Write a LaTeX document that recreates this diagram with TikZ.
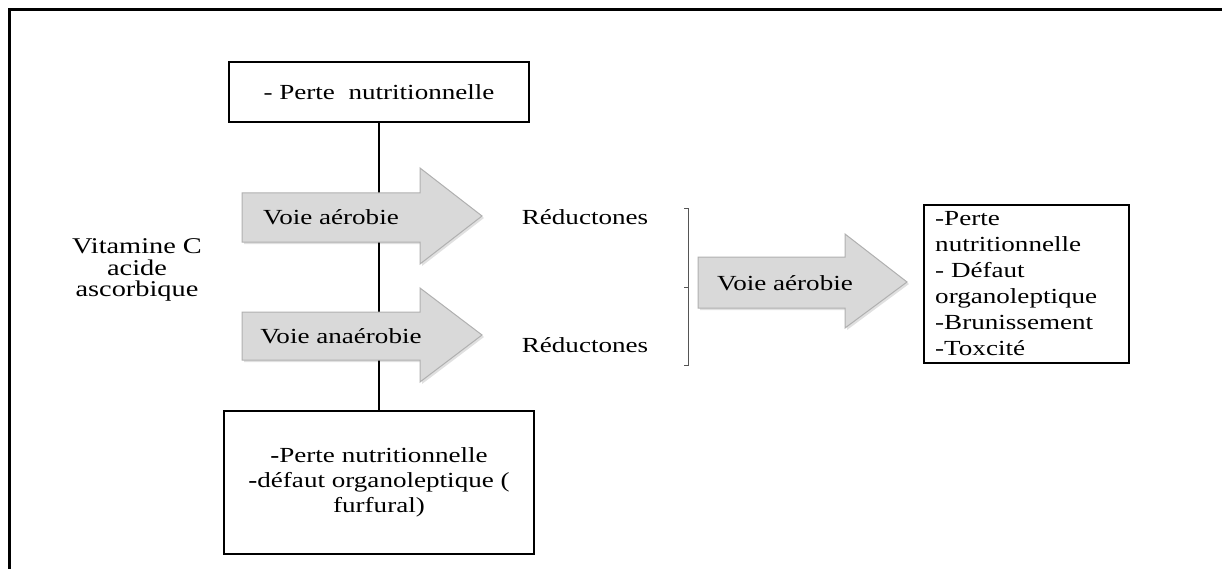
\documentclass[tikz,border=0pt]{standalone}
\usepackage{fontspec}
\setmainfont{Liberation Serif}[FakeStretch=1.26]
\definecolor{arrowfill}{HTML}{D9D9D9}
\definecolor{arrowdraw}{HTML}{B0B0B0}
\definecolor{brackcol}{HTML}{555555}
\begin{document}
\begin{tikzpicture}[x=1pt,y=-1pt,
  txt/.style={inner sep=0pt, font=\fontsize{21.5}{24}\selectfont},
  boxnode/.style={draw=black, line width=2.4pt, inner sep=0pt, font=\fontsize{21.5}{24}\selectfont},
  bigarrow/.style={fill=arrowfill, draw=arrowdraw, line width=1pt, line join=miter},
  arrowshadow/.style={fill=black, opacity=0.12},
  stem/.style={draw=black, line width=2.4pt},
  brack/.style={draw=brackcol, line width=0.9pt},
  frameline/.style={draw=black, line width=3pt}
]
\useasboundingbox (0,0) rectangle (1222,569);

% outer frame (partially visible)
\draw[frameline] (9,569) -- (9,10) -- (1222,10);

% boxes
\node[boxnode, minimum width=300pt, minimum height=60pt] (top) at (379,92) {- Perte\ \ nutritionnelle};
\node[boxnode, minimum width=310pt, minimum height=143pt, align=center,
      font=\fontsize{21.5}{25}\selectfont] (bot) at (379,482.5)
  {\textbf{-}Perte nutritionnelle\\\textbf{-}défaut organoleptique (\\furfural)};
\node[boxnode, minimum width=205pt, minimum height=158pt] (right) at (1026.5,284) {};
\node[txt, anchor=west, align=left, font=\fontsize{21.5}{26}\selectfont] (righttxt) at (935,284)
  {-Perte\\nutritionnelle\\- Défaut\\organoleptique\\-Brunissement\\-Toxcité};

% vertical stem
\draw[stem] (top.south) -- (bot.north);

% arrow 1 : Voie aérobie
\fill[arrowshadow] (244,195) -- (422,195) -- (422,170) -- (484,218) -- (422,266) -- (422,244) -- (244,244) -- cycle;
\draw[bigarrow] (242,193) -- (420,193) -- (420,168) -- (482,216) -- (420,264) -- (420,242) -- (242,242) -- cycle;
\node[txt] (a1) at (331,217) {Voie aérobie};

% arrow 2 : Voie anaérobie
\fill[arrowshadow] (244,314) -- (422,314) -- (422,290) -- (484,337) -- (422,384) -- (422,362) -- (244,362) -- cycle;
\draw[bigarrow] (242,312) -- (420,312) -- (420,288) -- (482,335) -- (420,382) -- (420,360) -- (242,360) -- cycle;
\node[txt] (a2) at (341,336) {Voie anaérobie};

% Réductones
\node[txt] (r1) at (585,217) {Réductones};
\node[txt] (r2) at (585,345) {Réductones};

% bracket
\coordinate (bt) at (688,208);
\coordinate (bb) at (688,365);
\coordinate (bm) at (688,287);
\draw[brack] ([xshift=-4pt]bt) -- (bt) -- (bb) -- ([xshift=-4pt]bb);
\draw[brack] (bm) -- ([xshift=-4pt]bm);

% arrow 3 : Voie aérobie
\fill[arrowshadow] (700,259) -- (847,259) -- (847,236) -- (909,284) -- (847,330) -- (847,310) -- (700,310) -- cycle;
\draw[bigarrow] (698,257) -- (845,257) -- (845,234) -- (907,282) -- (845,328) -- (845,308) -- (698,308) -- cycle;
\node[txt] (a3) at (785,283) {Voie aérobie};

% Vitamine C
\node[txt, align=center, font=\fontsize{22.5}{21.5}\selectfont] (vit) at (137,270) {Vitamine C\\acide\\ascorbique};

\end{tikzpicture}
\end{document}
